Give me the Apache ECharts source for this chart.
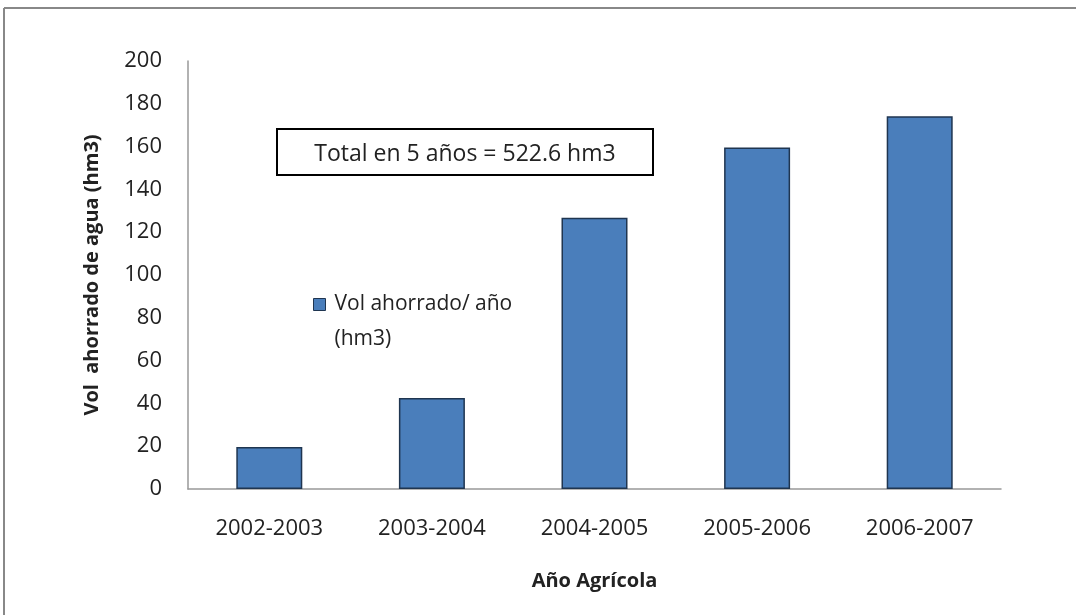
<!DOCTYPE html>
<html><head><meta charset="utf-8">
<script src="https://cdn.jsdelivr.net/npm/echarts@6/dist/echarts.min.js"></script>
<style>html,body{margin:0;padding:0;background:#fff}#c{width:1076px;height:615px}</style>
</head><body><div id="c"></div>
<script>
const categories = ['2002-2003','2003-2004','2004-2005','2005-2006','2006-2007'];
const values = [19.6, 42.5, 126.7, 159.6, 174.2];
const yTicks = [0,20,40,60,80,100,120,140,160,180,200];
const seriesName = 'Vol ahorrado/ año\n(hm3)';
const note = 'Total en 5 años = 522.6 hm3';
const FONT = '"Open Sans", Lato, sans-serif';

const chart = echarts.init(document.getElementById('c'));
chart.setOption({
  animation: false,
  textStyle: {fontFamily: FONT},
  grid: {left: 188, right: 75, top: 61, bottom: 126, containLabel: false},
  legend: {
    left: 313, top: 252, orient: 'vertical', padding: 0,
    itemWidth: 12, itemHeight: 12, itemGap: 6,
    icon: 'rect',
    formatter: function (n) { return ' \n' + n; },
    itemStyle: {borderColor: '#1f3550', borderWidth: 1},
    textStyle: {fontSize: 21, color: '#222', fontFamily: FONT, lineHeight: 35, padding: [0,0,0,4]},
    data: [seriesName]
  },
  xAxis: {
    type: 'category', data: categories,
    name: 'Año Agrícola', nameLocation: 'middle', nameGap: 82,
    nameTextStyle: {fontSize: 20, fontWeight: 'bold', color: '#222', fontFamily: FONT},
    axisLine: {lineStyle: {color: '#999', width: 1.5}},
    axisTick: {show: false},
    axisLabel: {fontSize: 22, color: '#222', margin: 29, fontFamily: FONT}
  },
  yAxis: {
    type: 'value', min: yTicks[0], max: yTicks[yTicks.length-1], interval: 20,
    name: 'Vol  ahorrado de agua (hm3)', nameLocation: 'middle', nameGap: 86,
    nameTextStyle: {fontSize: 20, fontWeight: 'bold', color: '#222', fontFamily: FONT},
    axisLine: {show: true, lineStyle: {color: '#999', width: 1.5}},
    axisTick: {show: false},
    splitLine: {show: false},
    axisLabel: {fontSize: 22, color: '#222', margin: 26, fontFamily: FONT}
  },
  series: [{
    name: seriesName, type: 'bar', data: values, barWidth: 66,
    itemStyle: {color: '#4a7ebb', borderColor: '#1f3550', borderWidth: 1.5}
  }],
  graphic: [
    {type: 'line', shape: {x1: 4, y1: 8, x2: 1076, y2: 8}, style: {stroke: '#888', lineWidth: 2}},
    {type: 'line', shape: {x1: 4, y1: 8, x2: 4, y2: 615}, style: {stroke: '#888', lineWidth: 2}},
    {type: 'rect', shape: {x: 277, y: 129, width: 376, height: 46}, style: {fill: '#fff', stroke: '#000', lineWidth: 2}},
    {type: 'text', x: 465, y: 154, style: {text: note, font: '23px ' + FONT, fill: '#222', textAlign: 'center', textVerticalAlign: 'middle'}}
  ]
});
</script></body></html>
